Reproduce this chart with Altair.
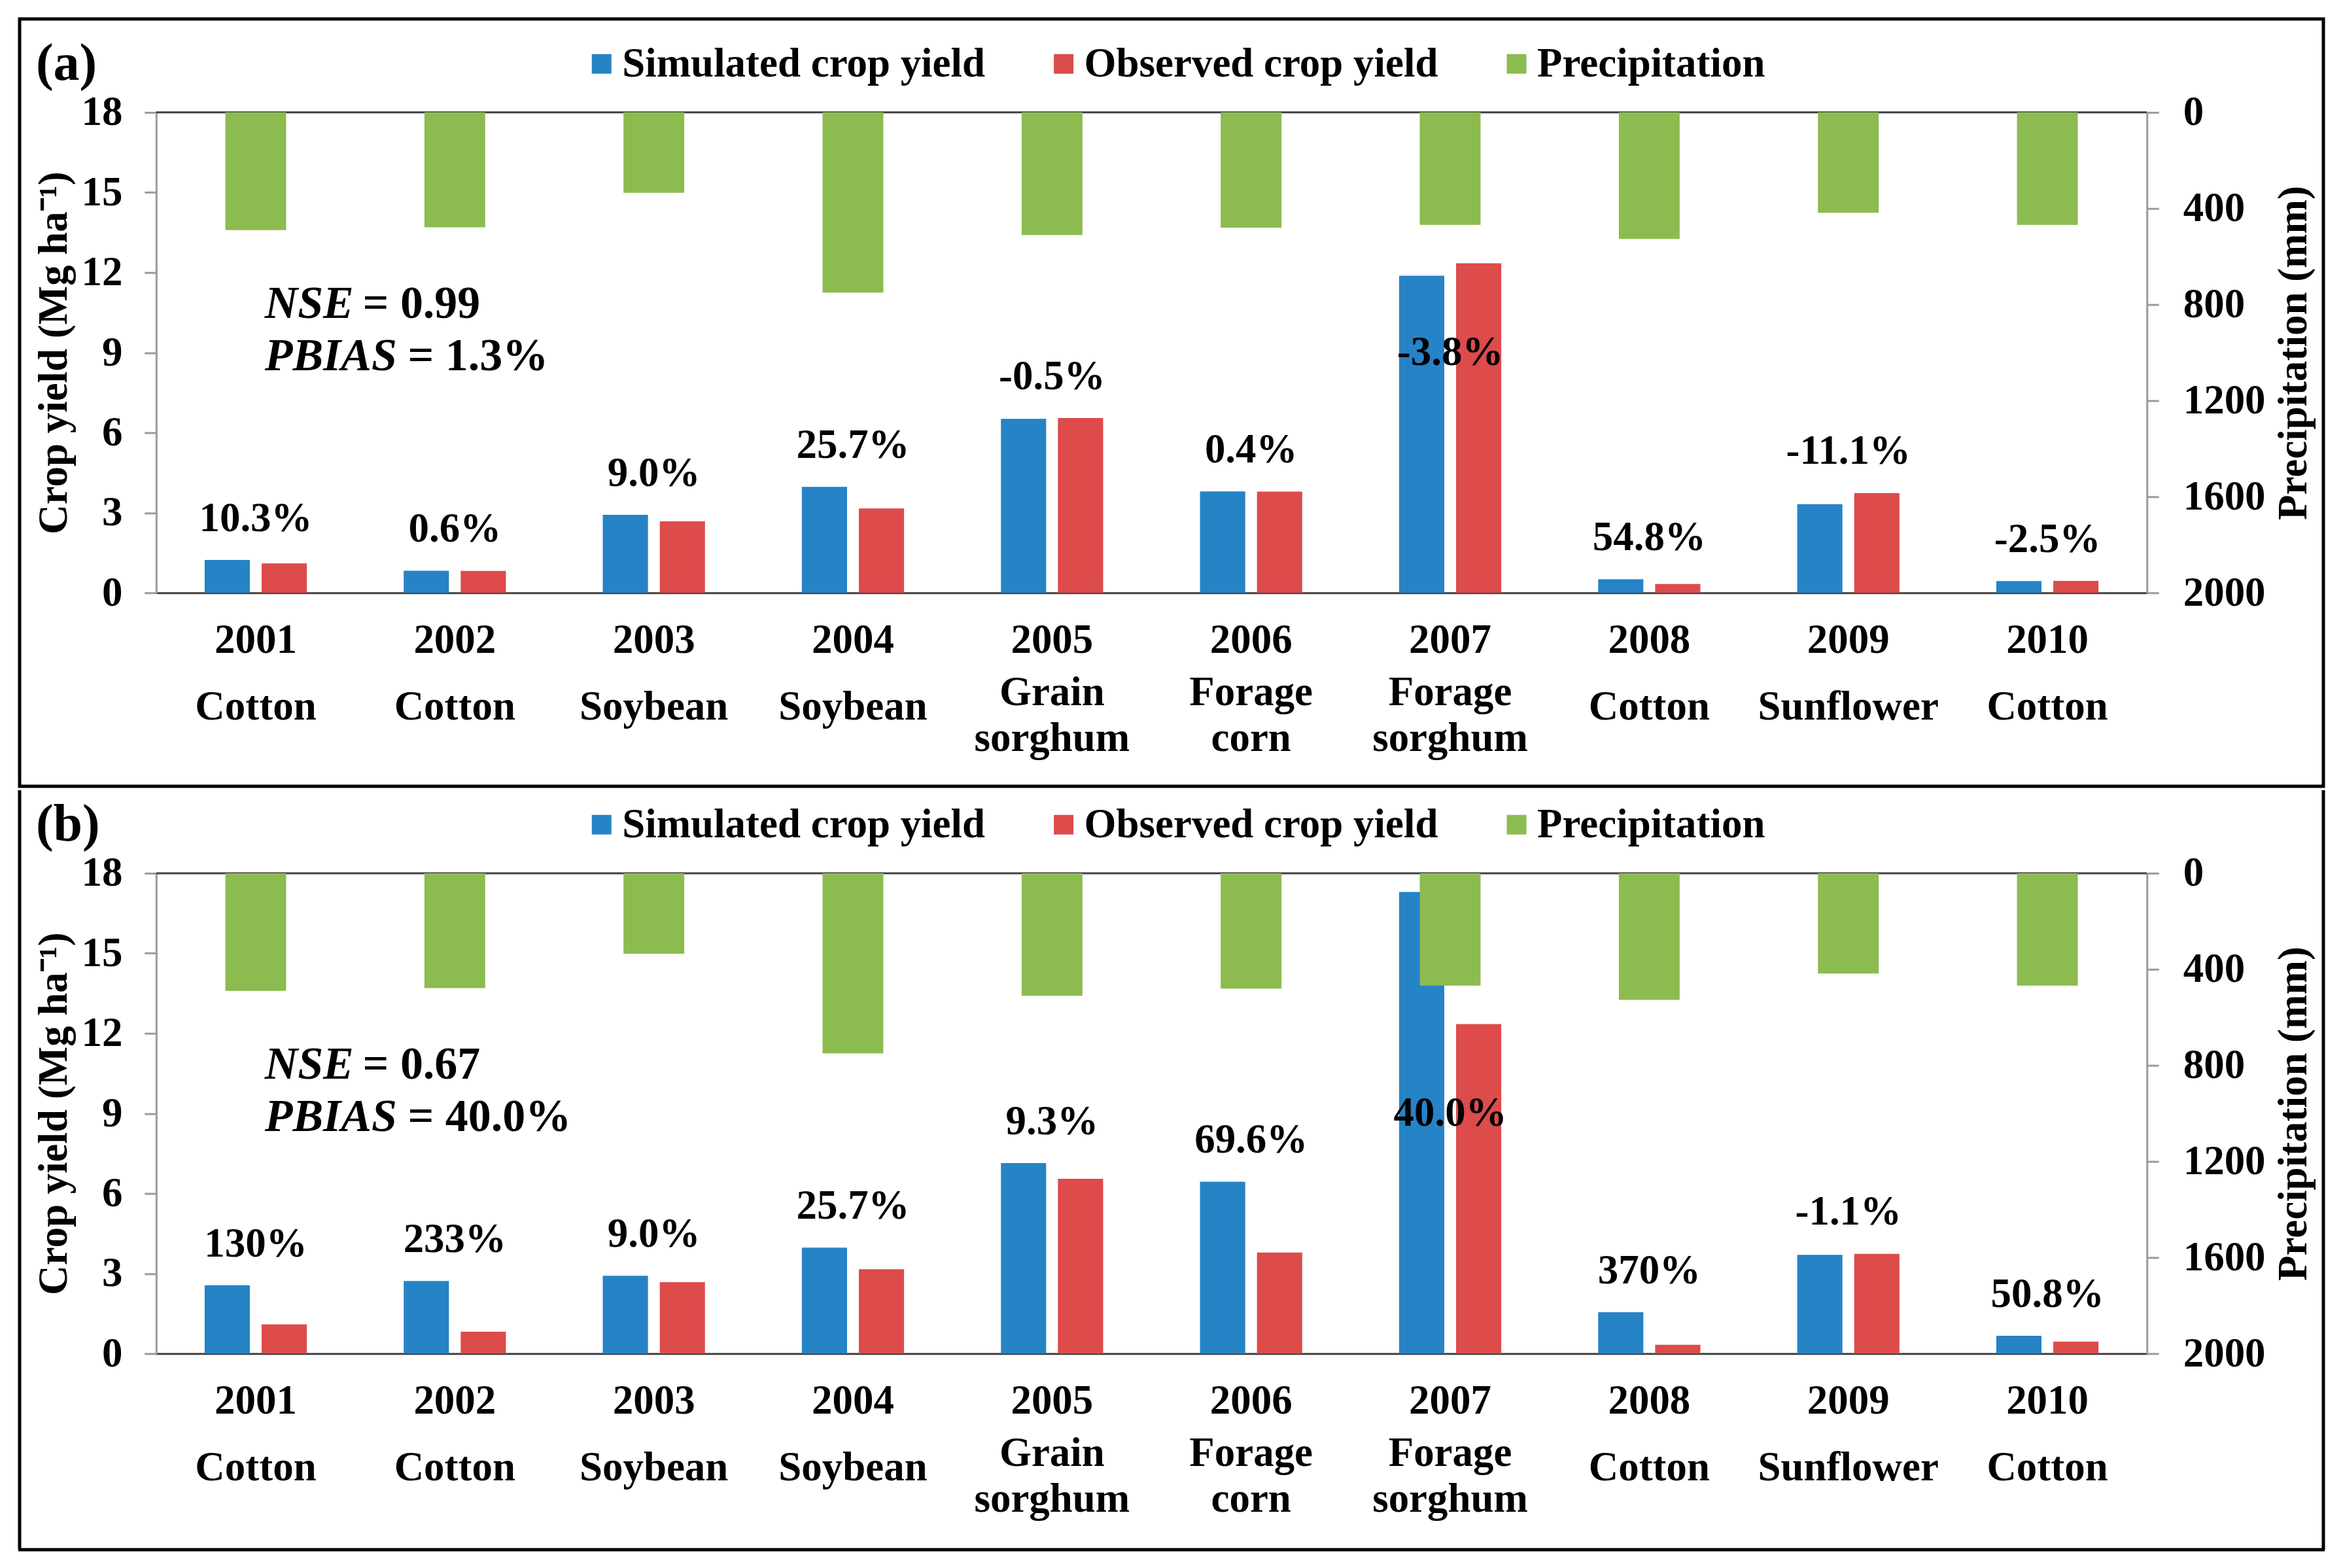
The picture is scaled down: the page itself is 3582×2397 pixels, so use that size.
import altair as alt
import pandas as pd

# ---------------- data ----------------
years = ['2001', '2002', '2003', '2004', '2005', '2006', '2007', '2008', '2009', '2010']
crops = ['Cotton', 'Cotton', 'Soybean', 'Soybean', 'Grain\nsorghum', 'Forage\ncorn',
         'Forage\nsorghum', 'Cotton', 'Sunflower', 'Cotton']
observed = [1.10, 0.82, 2.68, 3.16, 6.55, 3.79, 12.35, 0.33, 3.74, 0.45]
simulated_a = [1.23, 0.83, 2.92, 3.97, 6.52, 3.80, 11.88, 0.51, 3.32, 0.44]
simulated_b = [2.56, 2.72, 2.92, 3.97, 7.14, 6.44, 17.30, 1.55, 3.70, 0.67]
precipitation = [490, 478, 335, 750, 510, 480, 468, 527, 418, 468]
pbias_a = ['10.3%', '0.6%', '9.0%', '25.7%', '-0.5%', '0.4%', '-3.8%', '54.8%', '-11.1%', '-2.5%']
pbias_b = ['130%', '233%', '9.0%', '25.7%', '9.3%', '69.6%', '40.0%', '370%', '-1.1%', '50.8%']
nse_a, pb_a = '0.99', '1.3%'
nse_b, pb_b = '0.67', '40.0%'

SIM, OBS, PRE = 'Simulated crop yield', 'Observed crop yield', 'Precipitation'
COLORS = ['#2683C6', '#DD4B4B', '#8CBB4F']

# ---------------- styling ----------------
F = 'Liberation Serif'
FS = 63
W, H = 3046, 735
AXC = '#9a9a9a'

X = alt.X('year:N', sort=years, title=None,
          scale=alt.Scale(paddingInner=0, paddingOuter=0),
          axis=alt.Axis(labels=False, ticks=False, title=None, domainColor='#404040',
                        domainWidth=3, grid=False))

yield_scale = alt.Scale(domain=[0, 18], nice=False, zero=True)
yield_axis = alt.Axis(values=[0, 3, 6, 9, 12, 15, 18], grid=False, orient='left',
                      domainColor=AXC, domainWidth=3, tickColor=AXC, tickWidth=3, tickSize=18,
                      labelFont=F, labelFontSize=FS, labelFontWeight='bold', labelColor='black',
                      labelPadding=34,
                      title='Crop yield (Mg ha\u207b\u00b9)', titleFont=F, titleFontSize=FS,
                      titleFontWeight='bold', titleColor='black', titleAngle=270,
                      titleX=-156, titleY=H / 2, titleBaseline='middle', titleAlign='center')

precip_axis = alt.Axis(values=[0, 400, 800, 1200, 1600, 2000], format='d', grid=False,
                       orient='right',
                       domainColor=AXC, domainWidth=3, tickColor=AXC, tickWidth=3, tickSize=18,
                       labelFont=F, labelFontSize=FS, labelFontWeight='bold', labelColor='black',
                       labelPadding=37,
                       title='Precipitation (mm)', titleFont=F, titleFontSize=FS,
                       titleFontWeight='bold', titleColor='black', titleAngle=270,
                       titleX=224, titleY=H / 2, titleBaseline='middle', titleAlign='center')

color_scale = alt.Scale(domain=[SIM, OBS, PRE], range=COLORS)
legend = alt.Legend(orient='none', legendX=650, legendY=-106, direction='horizontal', title=None,
                    symbolType='square', symbolSize=900, symbolStrokeWidth=0, symbolOpacity=1,
                    labelFont=F, labelFontSize=FS, labelFontWeight='bold', labelColor='black',
                    labelOffset=0, columnPadding=88, padding=0, labelLimit=2000)

TXT = dict(font=F, fontSize=FS, fontWeight='bold', color='black', baseline='middle',
           align='center')


def panel(tag, sim, pbias, nse, pb, frame_top, frame_bottom, first):
    bars_df = pd.DataFrame({'year': years * 2,
                            'series': [SIM] * len(years) + [OBS] * len(years),
                            'value': sim + observed})
    pre_df = pd.DataFrame({'year': years, 'series': [PRE] * len(years), 'precip': precipitation})
    tops = [max(s, o) for s, o in zip(sim, observed)]
    lab_df = pd.DataFrame({'year': years, 'crop': crops, 'pct': pbias,
                           'ly': [t + 1.55 if t < 10 else 9.0 for t in tops]})
    one = pd.DataFrame({'k': [0]})

    bars = alt.Chart(bars_df).mark_bar().encode(
        x=X,
        xOffset=alt.XOffset('series:N', sort=[SIM, OBS],
                            scale=alt.Scale(domain=[SIM, OBS], paddingInner=0.207,
                                            paddingOuter=0.85)),
        y=alt.Y('value:Q', scale=yield_scale, axis=yield_axis),
        color=alt.Color('series:N', scale=color_scale, legend=legend),
    )

    pct = alt.Chart(lab_df).mark_text(**TXT).encode(
        x=X, y=alt.Y('ly:Q', scale=yield_scale, axis=yield_axis), text='pct:N')

    year_txt = alt.Chart(lab_df).mark_text(**TXT).encode(
        x=X, y=alt.value(H + 73), text='year:N')

    crop_one = alt.Chart(lab_df).transform_filter(
        "indexof(datum.crop, '\\n') < 0").mark_text(**TXT).encode(
        x=X, y=alt.value(H + 175), text='crop:N')

    crop_two = alt.Chart(lab_df).transform_filter(
        "indexof(datum.crop, '\\n') >= 0").mark_text(lineBreak='\n', lineHeight=70, **TXT).encode(
        x=X, y=alt.value(H + 153), text='crop:N')

    tag_txt = alt.Chart(one).mark_text(text=tag, font=F, fontSize=80, fontWeight='bold',
                                       color='black', align='left', baseline='middle').encode(
        x=alt.value(-184), y=alt.value(-74))

    def stat(label, val, ypix, xval):
        it = alt.Chart(one).mark_text(text=label, font=F, fontSize=70, fontWeight='bold',
                                      fontStyle='italic', color='black', align='left',
                                      baseline='middle').encode(x=alt.value(166), y=alt.value(ypix))
        nm = alt.Chart(one).mark_text(text='= ' + val, font=F, fontSize=70, fontWeight='bold',
                                      color='black', align='left',
                                      baseline='middle').encode(x=alt.value(xval), y=alt.value(ypix))
        return [it, nm]

    stats = stat('NSE', nse, 293, 316) + stat('PBIAS', pb, 373, 385)

    top_rule = alt.Chart(one).mark_rule(color='#404040', strokeWidth=3).encode(
        x=alt.value(0), x2=alt.value(W), y=alt.value(0))

    if first:
        frame = [alt.Chart(one).mark_rect(fillOpacity=0, stroke='black', strokeWidth=5).encode(
            x=alt.value(-209), x2=alt.value(W + 270), y=alt.value(frame_top),
            y2=alt.value(H + frame_bottom))]
    else:
        frame = [
            alt.Chart(one).mark_rule(color='black', strokeWidth=5).encode(
                x=alt.value(-209), y=alt.value(frame_top), y2=alt.value(H + frame_bottom)),
            alt.Chart(one).mark_rule(color='black', strokeWidth=5).encode(
                x=alt.value(W + 270), y=alt.value(frame_top), y2=alt.value(H + frame_bottom)),
            alt.Chart(one).mark_rule(color='black', strokeWidth=5).encode(
                x=alt.value(-211), x2=alt.value(W + 272), y=alt.value(H + frame_bottom)),
        ]

    yield_layer = alt.layer(bars, top_rule, pct, year_txt, crop_one, crop_two, tag_txt,
                            *stats, *frame)

    pre = alt.Chart(pre_df).mark_bar(width=93).encode(
        x=X,
        y=alt.Y('precip:Q', scale=alt.Scale(domain=[0, 2000], reverse=True, nice=False),
                axis=precip_axis),
        color=alt.Color('series:N', scale=color_scale, legend=legend),
    )

    return alt.layer(yield_layer, pre).resolve_scale(y='independent').properties(
        width=W, height=H)


pa = panel('(a)', simulated_a, pbias_a, nse_a, pb_a, -143, 296, True)
pb = panel('(b)', simulated_b, pbias_b, nse_b, pb_b, -127, 300, False)

chart = alt.vconcat(pa, pb, spacing=0).resolve_scale(
    color='independent', x='independent', y='independent'
).resolve_legend(color='independent').properties(
    padding={'left': 17, 'top': 17, 'right': 17, 'bottom': 17}
).configure_view(stroke=None).configure(font=F, background='white')

chart.save('out.html', embed_options={'renderer': 'svg', 'actions': False})
